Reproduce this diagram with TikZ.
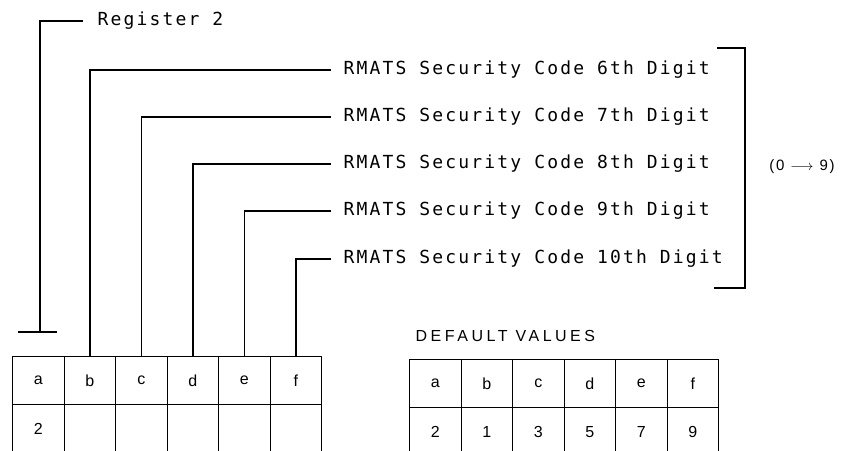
\documentclass[tikz,border=0pt]{standalone}
\usepackage{fontspec}
\setmainfont{Liberation Sans}
\newfontfamily\lblfont[LetterSpace=12]{DejaVu Sans Mono}
\newfontfamily\capfont[LetterSpace=22]{Liberation Sans}
\newfontfamily\rngfont[LetterSpace=12]{Liberation Sans}
\begin{document}
\begin{tikzpicture}[x=1pt,y=-1pt,line width=1.3pt,
  lbl/.style={anchor=west,inner xsep=12pt,inner ysep=0pt,font=\lblfont\fontsize{18}{20}\selectfont},
  cell/.style={draw,minimum width=51.5pt,minimum height=48pt,inner sep=0pt,anchor=north west,font=\fontsize{16}{18}\selectfont},
  wire/.style={line width=1.3pt}]
\useasboundingbox (0,0) rectangle (866,450);
\clip (0,0) rectangle (866,450);

% register table
\foreach \n/\t [count=\i from 0] in {tA/a,tB/b,tC/c,tD/d,tE/e,tF/f}
  \node[cell] (\n) at (12+51.5*\i,356) {\t};
\node[cell] (uA) at (12,404) {2};
\foreach \n [count=\i from 1] in {uB,uC,uD,uE,uF}
  \node[cell] (\n) at (12+51.5*\i,404) {};

% default values table
\node[anchor=west,inner sep=0pt,font=\capfont\fontsize{16}{18}\selectfont] (dv) at (415,336) {DEFAULT VALUES};
\foreach \n/\t [count=\i from 0] in {dA/a,dB/b,dC/c,dD/d,dE/e,dF/f}
  \node[cell] (\n) at (409+51.5*\i,359) {\t};
\foreach \n/\t [count=\i from 0] in {vA/2,vB/1,vC/3,vD/5,vE/7,vF/9}
  \node[cell] (\n) at (409+51.5*\i,407) {\t};

% labels
\node[lbl,inner xsep=14pt] (reg) at (83,21) {Register 2};
\node[lbl] (l6) at (331,70) {RMATS Security Code 6th Digit};
\node[lbl] (l7) at (331,117) {RMATS Security Code 7th Digit};
\node[lbl] (l8) at (331,164) {RMATS Security Code 8th Digit};
\node[lbl] (l9) at (331,211) {RMATS Security Code 9th Digit};
\node[lbl] (l10) at (331,259) {RMATS Security Code 10th Digit};

% connectors
\coordinate (regT) at (40,332);
\coordinate (regTl) at (18,332);
\coordinate (regTr) at (57,332);
\draw[wire] (reg.west) -| (regT);
\draw[wire] (regTl) -- (regTr);
\draw[wire] (l6.west) -| (tB.north);
\draw[wire] (l7.west) -| (tC.north);
\draw[wire] (l8.west) -| (tD.north);
\draw[wire] (l9.west) -| (tE.north);
\draw[wire] (l10.west) -| (tF.north);

% bracket
\coordinate (b1) at (717,48);
\coordinate (b2) at (745,48);
\coordinate (b3) at (745,288);
\coordinate (b4) at (714,288);
\draw[wire] (b1) -- (b2) -- (b3) -- (b4);
\node[font=\rngfont\fontsize{15}{18}\selectfont] (range) at (802,167) {(0 $\longrightarrow$ 9)};
\end{tikzpicture}
\end{document}
